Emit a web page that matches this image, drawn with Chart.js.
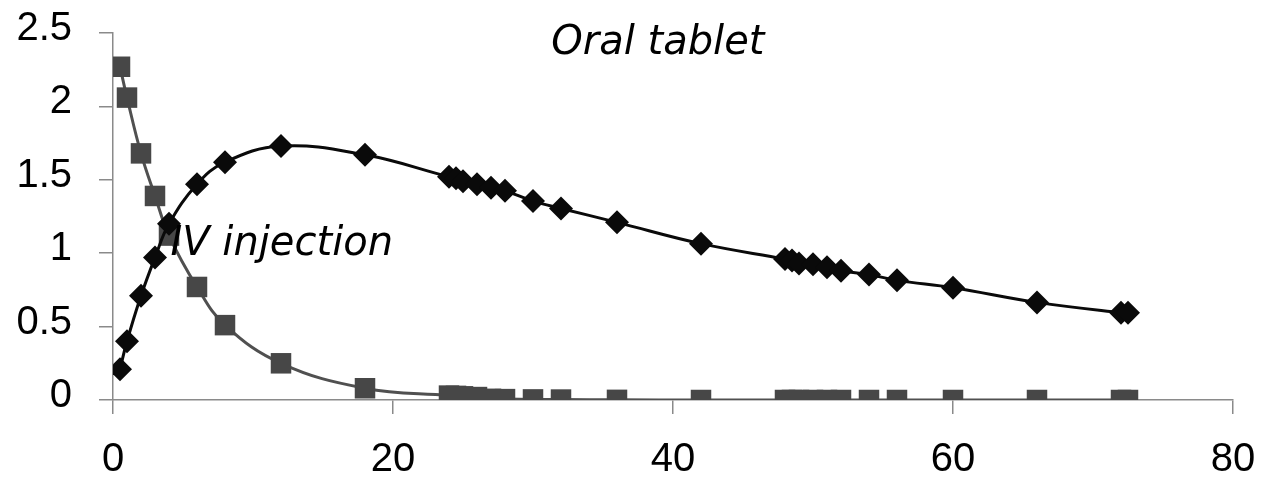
<!DOCTYPE html>
<html>
<head>
<meta charset="utf-8">
<script src="https://cdn.jsdelivr.net/npm/chart.js@4/dist/chart.umd.min.js"></script>
<style>
  html, body { margin: 0; padding: 0; background: #ffffff; }
  #wrap { width: 1262px; height: 481px; position: relative; }
</style>
</head>
<body>
<div id="wrap"><canvas id="c"></canvas></div>
<script>
// Sampling times (hours)
const times = [0.5, 1, 2, 3, 4, 6, 8, 12, 18, 24, 24.5, 25, 26, 27, 28, 30, 32, 36, 42,
               48, 48.5, 49, 50, 51, 52, 54, 56, 60, 66, 72, 72.5];
// Oral tablet concentrations
const oralValues = [0.21, 0.40, 0.71, 0.97, 1.20, 1.47, 1.62, 1.73, 1.67, 1.52, 1.51, 1.49, 1.47, 1.445,
                    1.425, 1.355, 1.305, 1.21, 1.065, 0.96, 0.95, 0.93, 0.925, 0.905, 0.88, 0.855,
                    0.815, 0.765, 0.665, 0.595, 0.595];
// IV injection concentrations
const ivValues = [2.27, 2.06, 1.68, 1.39, 1.12, 0.77, 0.51, 0.25, 0.08, 0.03, 0.028, 0.025, 0.02, 0.008,
                  0.006, 0.004, 0.003, 0.001, 0, 0, 0, 0, 0, 0, 0, 0, 0, 0, 0, 0, 0];
// Axis ticks
const xTicks = [0, 20, 40, 60, 80];
const yTicks = [0, 0.5, 1, 1.5, 2, 2.5];
const yTickLabels = ["0", "0.5", "1", "1.5", "2", "2.5"];
// Annotation labels
const oralLabel = "Oral tablet";
const ivLabel = "IV injection";

const toPoints = (xs, ys) => xs.map((x, i) => ({ x: x, y: ys[i] }));

const textPlugin = {
  id: 'curveLabels',
  afterDatasetsDraw(chart) {
    const ctx = chart.ctx;
    const xs = chart.scales.x, ys = chart.scales.y;
    ctx.save();
    ctx.fillStyle = '#000';
    ctx.font = 'italic 40px "DejaVu Sans"';
    ctx.textBaseline = 'alphabetic';
    ctx.textAlign = 'left';
    ctx.fillText(oralLabel, xs.getPixelForValue(31.3), ys.getPixelForValue(2.36));
    ctx.fillText(ivLabel, xs.getPixelForValue(4.1), ys.getPixelForValue(0.99));
    ctx.restore();
  }
};

const axisColor = '#8a8a8a';
const tickFont = { family: '"Liberation Sans", Arial, sans-serif', size: 40 };

new Chart(document.getElementById('c'), {
  type: 'scatter',
  data: {
    datasets: [
      {
        label: oralLabel,
        data: toPoints(times, oralValues),
        showLine: true,
        tension: 0.4,
        borderColor: '#0a0a0a',
        borderWidth: 3,
        pointStyle: 'rectRot',
        pointRadius: 12,
        pointHoverRadius: 12,
        pointBackgroundColor: '#0a0a0a',
        pointBorderColor: '#0a0a0a',
        pointBorderWidth: 0
      },
      {
        label: ivLabel,
        data: toPoints(times, ivValues),
        showLine: true,
        tension: 0.4,
        borderColor: '#505050',
        borderWidth: 3,
        pointStyle: 'rect',
        pointRadius: 14.5,
        pointHoverRadius: 14.5,
        pointBackgroundColor: '#474747',
        pointBorderColor: '#474747',
        pointBorderWidth: 0
      }
    ]
  },
  options: {
    responsive: true,
    maintainAspectRatio: false,
    animation: false,
    events: [],
    layout: { padding: { top: 33, right: 29, left: 0, bottom: 0 } },
    plugins: {
      legend: { display: false },
      tooltip: { enabled: false }
    },
    scales: {
      x: {
        type: 'linear',
        min: 0, max: 80,
        afterBuildTicks: (s) => { s.ticks = xTicks.map(v => ({ value: v })); },
        afterFit: (s) => { s.height = 81; s.paddingLeft = 0; s.paddingRight = 0; },
        ticks: { color: '#000', font: tickFont, padding: 22, maxRotation: 0 },
        grid: { display: true, drawOnChartArea: false, drawTicks: true, tickLength: 14, color: axisColor, lineWidth: 1.5 },
        border: { display: true, color: axisColor, width: 1.5 }
      },
      y: {
        type: 'linear',
        min: 0, max: 2.5,
        afterBuildTicks: (s) => { s.ticks = yTicks.map(v => ({ value: v })); },
        afterFit: (s) => { s.width = 113; s.paddingTop = 0; s.paddingBottom = 0; },
        ticks: {
          color: '#000', font: tickFont, padding: 27, labelOffset: -4,
          callback: (v) => { const i = yTicks.indexOf(v); return i >= 0 ? yTickLabels[i] : ''; }
        },
        grid: { display: true, drawOnChartArea: false, drawTicks: true, tickLength: 14, color: axisColor, lineWidth: 1.5 },
        border: { display: true, color: axisColor, width: 1.5 }
      }
    }
  },
  plugins: [textPlugin]
});
</script>
</body>
</html>
